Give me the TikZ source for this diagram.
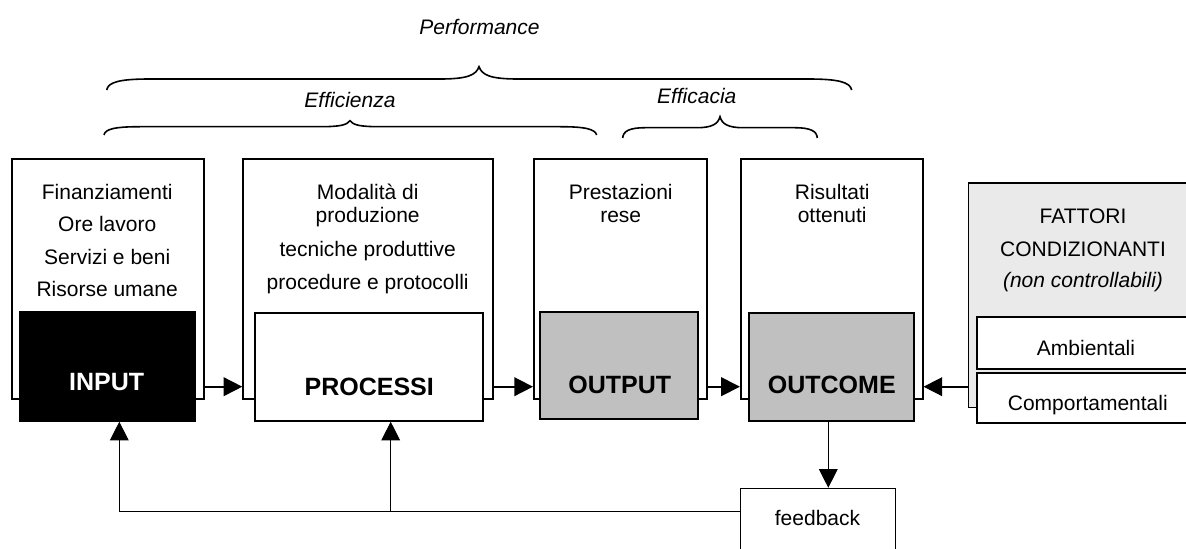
\documentclass[tikz,border=0pt]{standalone}
\usepackage{fontspec}
\setmainfont{Liberation Sans}
\usetikzlibrary{arrows.meta,fit}
\definecolor{outgray}{RGB}{192,192,192}
\definecolor{factgray}{RGB}{234,234,234}
\tikzset{every picture/.style={line width=0.75pt}}
\tikzset{
  blk/.style={draw, line width=1.5pt, fill=white, inner sep=0pt},
  thinblk/.style={draw, line width=0.75pt, fill=white, inner sep=0pt},
  txt/.style={font=\fontsize{15.75}{19}\selectfont, inner sep=0pt, text height=11.3pt, text depth=0pt},
  ittxt/.style={txt, font=\fontsize{15.75}{19}\selectfont\itshape},
  lbl/.style={font=\fontsize{18.75}{22}\selectfont\bfseries, inner sep=0pt, text height=13.4pt, text depth=0pt},
  arr/.style={line width=1.25pt, -{Triangle[length=14pt,width=14pt]}},
  farr/.style={line width=0.75pt, -{Triangle[length=14pt,width=14pt]}},
  brc/.style={line width=1.2pt}
}

\begin{document}
\begin{tikzpicture}[x=0.75pt,y=0.75pt,yscale=-1,xscale=1]
\useasboundingbox (0,0) rectangle (1186,549);

%Shape: Brace (performance)
\draw [brc] (106.7,90) .. controls (108,82) and (120,79) .. (150,79) -- (440,79) .. controls (468,79) and (476,75) .. (479,66.7) .. controls (482,75) and (490,79) .. (518,79) -- (808,79) .. controls (838,79) and (850,82) .. (851.7,90) ;
%Shape: Brace (efficienza)
\draw [brc] (104,135) .. controls (105,129) and (115,126.7) .. (140,126.7) -- (320,126.7) .. controls (340,126.7) and (347,125) .. (350,120.7) .. controls (353,125) and (360,126.7) .. (380,126.7) -- (560,126.7) .. controls (585,126.7) and (595,129) .. (596.7,135) ;
%Shape: Brace (efficacia)
\draw [brc] (622.7,138) .. controls (623,131) and (630,127.7) .. (645,127.7) -- (697,127.7) .. controls (712,127.7) and (718,124) .. (720,116.7) .. controls (722,124) and (728,127.7) .. (743,127.7) -- (795,127.7) .. controls (810,127.7) and (817,131) .. (817.3,138) ;

%Shape: Rectangle (outer boxes)
\node [blk, fit={(11.7,159.3) (204,399.3)}] (inbox) {};
\node [blk, fit={(243.3,159.3) (492.7,399.3)}] (pcbox) {};
\node [blk, fit={(534,159.3) (706.9,399.3)}] (outbox) {};
\node [blk, fit={(740.9,159.3) (922.5,399.3)}] (ocbox) {};
%Shape: Rectangle (inner boxes)
\node [blk, fill=black, fit={(20,312.3) (195,420.7)}] (inin) {};
\node [blk, fit={(255.3,313.3) (482.7,420.7)}] (pcin) {};
\node [blk, fill=outgray, fit={(540.4,311.7) (698.4,419.3)}] (outin) {};
\node [blk, fill=outgray, fit={(749.4,313.3) (914,420.7)}] (ocin) {};
%Shape: Rectangle (fattori)
\node [blk, line width=1.2pt, fill=factgray, fit={(968.3,183.3) (1200,407.3)}] (fat) {};
\node [blk, fit={(976.7,316.7) (1200,369.3)}] (amb) {};
\node [blk, fit={(976.7,372.7) (1200,423.3)}] (comp) {};
%Shape: Rectangle (feedback)
\node [thinblk, fit={(740,488.3) (895.7,565)}] (fb) {};

%Straight Lines
\coordinate (ay) at (0,386.7);
\coordinate (fbL) at (119.3,511.7);
\coordinate (fbM) at (390.7,511.7);
\coordinate (dn) at (828.3,0);
\draw [arr] (inbox.east |- ay) -- (pcbox.west |- ay) ;
\draw [arr] (pcbox.east |- ay) -- (outbox.west |- ay) ;
\draw [arr] (outbox.east |- ay) -- (ocbox.west |- ay) ;
\draw [arr] (fat.west |- ay) -- (ocbox.east |- ay) ;
\draw [farr] (ocin.south -| dn) -- (fb.north -| dn) ;
\draw [farr] (fbL -| fb.west) -- (fbL) -- (fbL |- inin.south) ;
\draw [farr] (fbM) -- (fbM |- pcin.south) ;

% Text Node
\node [ittxt] (perf) at (479.5,27) {Performance};
% Text Node
\node [ittxt] (effz) at (350,100) {Efficienza};
% Text Node
\node [ittxt] (effc) at (696.7,96) {Efficacia};
% Text Node
\node [txt] (in1) at (107.2,191.7) {Finanziamenti};
\node [txt] (in2) at (107.2,224) {Ore lavoro};
\node [txt] (in3) at (107.2,256.7) {Servizi e beni};
\node [txt] (in4) at (107.2,289.3) {Risorse umane};
% Text Node
\node [txt] (pc1) at (367.7,191.7) {Modalità di};
\node [txt] (pc2) at (367.7,215) {produzione};
\node [txt] (pc3) at (367.7,249) {tecniche produttive};
\node [txt] (pc4) at (367.7,281.7) {procedure e protocolli};
% Text Node
\node [txt] (out1) at (620.7,191.7) {Prestazioni};
\node [txt] (out2) at (620.7,215) {rese};
% Text Node
\node [txt] (oc1) at (832.2,191.7) {Risultati};
\node [txt] (oc2) at (832.2,215) {ottenuti};
% Text Node
\node [txt] (fat1) at (1083,216) {FATTORI};
\node [txt] (fat2) at (1083,249.3) {CONDIZIONANTI};
\node [ittxt] (fat3) at (1083,280) {(non controllabili)};
\node [txt] (ambt) at (1086,348.3) {Ambientali};
\node [txt] (compt) at (1087.8,403.3) {Comportamentali};
% Text Node
\node [lbl, text=white] (inlbl) at (106.7,381.7) {INPUT};
\node [lbl] (pclbl) at (369.2,386.7) {PROCESSI};
\node [lbl] (outlbl) at (619.8,385) {OUTPUT};
\node [lbl] (oclbl) at (831.8,385) {OUTCOME};
% Text Node
\node [txt] (fbt) at (817.5,518.3) {feedback};

\end{tikzpicture}
\end{document}
